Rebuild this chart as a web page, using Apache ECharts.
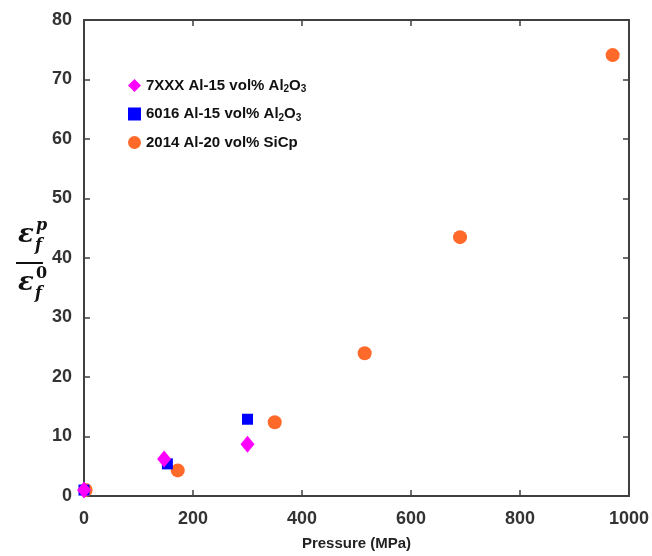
<!DOCTYPE html>
<html><head><meta charset="utf-8">
<script src="https://cdn.jsdelivr.net/npm/echarts@6/dist/echarts.min.js"></script>
<style>html,body{margin:0;padding:0;background:#fff}#c{width:652px;height:556px}</style>
</head><body><div id="c"></div>
<script>
const seriesNames = ['7XXX Al-15 vol% Al2O3', '6016 Al-15 vol% Al2O3', '2014 Al-20 vol% SiCp'];
const al7xxx = [[0, 1.0], [147, 6.2], [300, 8.7]];
const al6016 = [[0, 1.0], [153, 5.4], [300, 12.9]];
const al2014 = [[3, 1.0], [172, 4.3], [350, 12.4], [515, 24.0], [690, 43.5], [970, 74.1]];
const xTicks = [0, 200, 400, 600, 800, 1000];
const yTicks = [0, 10, 20, 30, 40, 50, 60, 70, 80];

const axisColor = '#404040';
const labelStyle = {color: '#333', fontSize: 18, fontWeight: 'bold', fontFamily: 'Arial, Liberation Sans, sans-serif'};
const lineCfg = {show: true, onZero: false, lineStyle: {color: axisColor, width: 2}};
const tickCfg = {show: true, inside: true, length: 6, lineStyle: {color: axisColor, width: 1.5}};
const chart = echarts.init(document.getElementById('c'));
chart.setOption({
  animation: false,
  grid: {left: 84, top: 20, right: 22, bottom: 59},
  legend: {
    orient: 'vertical', left: 123, top: 73, itemGap: 12, itemWidth: 13, itemHeight: 13,
    data: [
      {name: seriesNames[0], icon: 'diamond'},
      {name: seriesNames[1], icon: 'rect'},
      {name: seriesNames[2], icon: 'circle'}
    ],
    formatter: function (n) {
      return n.replace('Al2O3', 'Al{sub|2}O{sub|3}');
    },
    textStyle: {
      color: '#111', fontSize: 15, fontWeight: 'bold', fontFamily: 'Arial, Liberation Sans, sans-serif',
      rich: {sub: {fontSize: 10, fontWeight: 'bold', verticalAlign: 'bottom', padding: [8, 0, 0, 0], fontFamily: 'Arial, Liberation Sans, sans-serif', color: '#111'}}
    }
  },
  xAxis: [{
    type: 'value', min: 0, max: 1000, interval: 200,
    name: 'Pressure (MPa)', nameLocation: 'middle', nameGap: 40,
    nameTextStyle: {color: '#222', fontSize: 15, fontWeight: 'bold', fontFamily: 'Arial, Liberation Sans, sans-serif'},
    axisLine: lineCfg, axisTick: tickCfg,
    axisLabel: Object.assign({margin: 14, formatter: v => xTicks.includes(v) ? String(v) : ''}, labelStyle),
    splitLine: {show: false}
  }, {
    type: 'value', min: 0, max: 1000, interval: 200, position: 'top',
    axisLine: lineCfg, axisTick: tickCfg,
    axisLabel: {show: false}, splitLine: {show: false}
  }],
  yAxis: [{
    type: 'value', min: 0, max: 80, interval: 10,
    axisLine: lineCfg, axisTick: tickCfg,
    axisLabel: Object.assign({margin: 12, formatter: v => yTicks.includes(v) ? String(v) : ''}, labelStyle),
    splitLine: {show: false}
  }, {
    type: 'value', min: 0, max: 80, interval: 10, position: 'right',
    axisLine: lineCfg, axisTick: tickCfg,
    axisLabel: {show: false}, splitLine: {show: false}
  }],
  series: [
    {name: seriesNames[2], type: 'scatter', data: al2014, symbol: 'circle', symbolSize: 14, itemStyle: {color: '#FF6A2B', opacity: 1}, z: 2},
    {name: seriesNames[1], type: 'scatter', data: al6016, symbol: 'rect', symbolSize: 11, itemStyle: {color: '#0000FF', opacity: 1}, z: 3},
    {name: seriesNames[0], type: 'scatter', data: al7xxx, symbol: 'diamond', symbolSize: [14, 17], itemStyle: {color: '#FF00FF', opacity: 1}, z: 4}
  ],
  graphic: [
    {type: 'text', left: 18, top: 222, style: {text: 'ε', font: 'italic bold 26px "DejaVu Serif", serif', fill: '#111'}},
    {type: 'text', left: 36, top: 218, style: {text: 'p', font: 'italic bold 16px "DejaVu Serif", serif', fill: '#111'}},
    {type: 'text', left: 35, top: 238, style: {text: 'f', font: 'italic bold 16px "DejaVu Serif", serif', fill: '#111'}},
    {type: 'line', shape: {x1: 16, y1: 263, x2: 43, y2: 263}, style: {stroke: '#111', lineWidth: 2}},
    {type: 'text', left: 18, top: 270, style: {text: 'ε', font: 'italic bold 26px "DejaVu Serif", serif', fill: '#111'}},
    {type: 'text', left: 36, top: 266, style: {text: '0', font: 'bold 16px "DejaVu Serif", serif', fill: '#111'}},
    {type: 'text', left: 35, top: 286, style: {text: 'f', font: 'italic bold 16px "DejaVu Serif", serif', fill: '#111'}}
  ]
});
</script></body></html>
